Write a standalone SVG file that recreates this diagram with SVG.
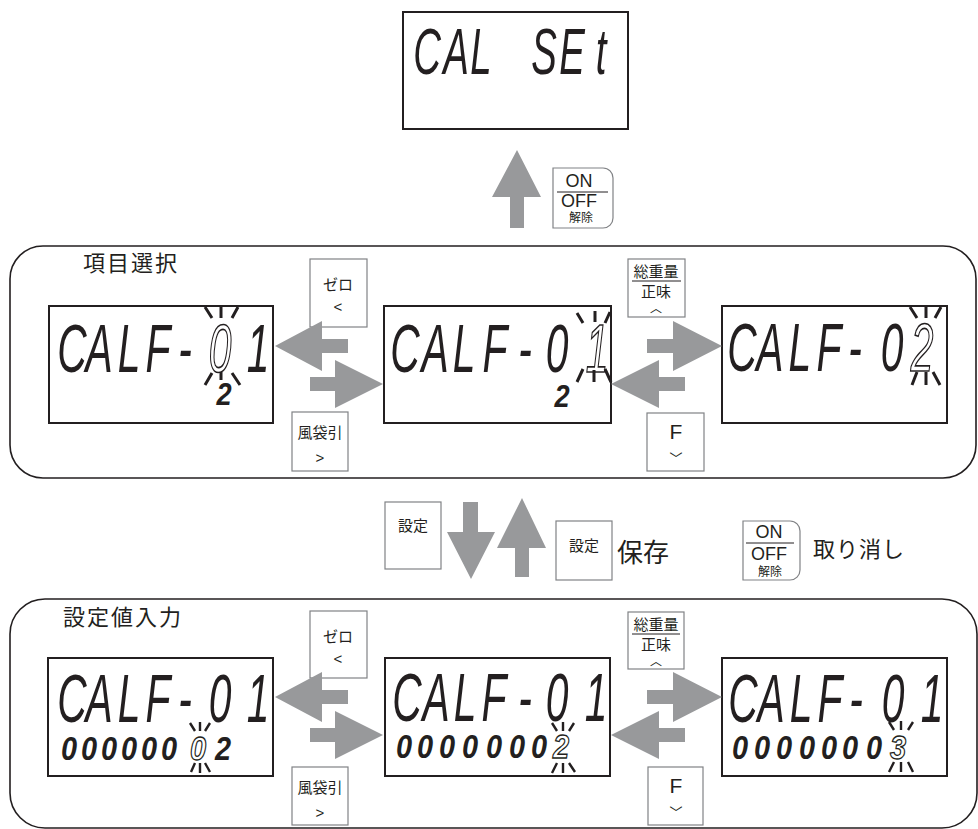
<svg xmlns="http://www.w3.org/2000/svg" width="978" height="829" viewBox="0 0 978 829">
<style>
.bg{fill:#fff}
.disp{fill:#fff;stroke:#231f20;stroke-width:2}
.key{fill:#fff;stroke:#808285;stroke-width:1.2}
.panel{fill:none;stroke:#231f20;stroke-width:1.6}
.seg{font-family:"Liberation Sans",Arial,sans-serif;font-style:italic;fill:#231f20;text-anchor:middle}
.l1{font-size:68px}
.l0{font-size:64px}
.l2{font-size:34px;font-weight:bold}
.sm{font-size:32px;font-weight:bold}
.blink{fill:#fff;stroke:#231f20;stroke-width:1.7}
.blink2{fill:#fff;stroke:#231f20;stroke-width:1.3}
.ray{stroke:#231f20;stroke-width:3;fill:none}
.ray2{stroke:#231f20;stroke-width:2.4;fill:none}
.arrow{fill:#98999b}
.jp{font-family:"Noto Sans CJK JP",sans-serif;fill:#231f20}
.k{font-size:15px;text-anchor:middle}
.lat{font-family:"Liberation Sans",sans-serif;text-anchor:middle;fill:#231f20}
.sep{stroke:#231f20;stroke-width:1}
</style>
<rect class="bg" x="0" y="0" width="978" height="829"/>

<g id="panel-select">
<rect class="panel" x="10" y="246" width="966" height="232" rx="33" ry="33"/>
<text class="jp" x="83" y="271" font-size="22" letter-spacing="2">項目選択</text>
</g>
<g id="panel-input">
<rect class="panel" x="10" y="599" width="967" height="229" rx="35" ry="35"/>
<text class="jp" x="63" y="625" font-size="22" letter-spacing="2">設定値入力</text>
</g>

<g id="disp-calset">
<rect class="disp" x="403" y="12" width="225" height="117"/>
<text class="seg l0" transform="scale(0.6,1)" x="711.7 760 801.7 853.3 906.7 953.3 1001.7" y="74">CAL SEt</text>
</g>

<g id="key-onoff-top">
<path class="key" d="M553,168 H603 A10,10 0 0 1 613,178 V218 A10,10 0 0 1 603,228 H553 Z"/>
<text class="lat" x="579" y="187" font-size="18">ON</text>
<line class="sep" x1="557" y1="192" x2="608" y2="192"/>
<text class="lat" x="579" y="207" font-size="18">OFF</text>
<text class="jp" x="581" y="222" font-size="12" text-anchor="middle">解除</text>
</g>

<g id="disp-L1">
<rect class="disp" x="49" y="306" width="224" height="117"/>
<text class="seg l1" transform="scale(0.6,1)" x="120 165 215 263.3 308.3" y="372">CALF-<tspan class="blink" x="366.7">0</tspan><tspan x="430">1</tspan></text>
<text class="seg sm" transform="scale(0.85,1)" x="263.5" y="405">2</text>
<path class="ray" d="M205,307 L212,318 M221,307 L221,318 M238,307 L232,318 M212,373 L205,385 M221,372 L221,380 M232,373 L240,385"/>
</g>

<g id="disp-M1">
<rect class="disp" x="384" y="306" width="227" height="117"/>
<text class="seg l1" transform="scale(0.6,1)" x="675 725 773.3 825 875 928.3" y="372">CALF-0<tspan class="blink" x="995">1</tspan></text>
<text class="seg sm" transform="scale(0.85,1)" x="661.2" y="407">2</text>
<path class="ray" d="M577,313 L583,323 M595,311 L595,322 M610,312 L605,323 M583,369 L577,382 M594,370 L594,382 M605,369 L611,382"/>
</g>

<g id="disp-R1">
<rect class="disp" x="722" y="306" width="225" height="117"/>
<text class="seg l1" transform="scale(0.6,1)" x="1236.7 1283.3 1333.3 1381.7 1425 1486.7" y="371">CALF-0<tspan class="blink" x="1536.7">2</tspan></text>
<path class="ray" d="M910,307 L917,318 M926,307 L926,318 M941,307 L935,318 M917,372 L912,385 M926,372 L926,385 M933,372 L940,385"/>
</g>

<g id="disp-L2">
<rect class="disp" x="48" y="658" width="225" height="118"/>
<text class="seg l1" transform="scale(0.6,1)" x="120 165 215 263.3 308.3 366.7 430" y="722">CALF-01</text>
<text class="seg l2" transform="scale(0.85,1)" x="81.2 104.7 128.2 151.8 175.3 198.8" y="760">000000<tspan class="blink2" x="232.9">0</tspan><tspan x="262.4">2</tspan></text>
<path class="ray2" d="M190,723 L195,731 M200,722 L200,731 M210,723 L205,731 M195,763 L191,772 M200,763 L200,773 M205,763 L210,772"/>
</g>

<g id="disp-M2">
<rect class="disp" x="385" y="658" width="225" height="118"/>
<text class="seg l1" transform="scale(0.6,1)" x="678.3 726.7 775 823.3 875 928.3 993.3" y="721">CALF-01</text>
<text class="seg l2" transform="scale(0.85,1)" x="475.3 500 525.9 552.9 581.2 608.2 634.1" y="758">0000000<tspan class="blink2" x="660">2</tspan></text>
<path class="ray2" d="M552,723 L557,731 M563,722 L563,731 M574,723 L569,731 M557,763 L552,773 M563,763 L563,773 M569,763 L575,772"/>
</g>

<g id="disp-R2">
<rect class="disp" x="722" y="658" width="225" height="118"/>
<text class="seg l1" transform="scale(0.6,1)" x="1238.3 1285 1335 1383.3 1426.7 1488.3 1553.3" y="722">CALF-01</text>
<text class="seg l2" transform="scale(0.85,1)" x="870.6 896.5 922.4 949.4 975.3 1000 1028.2" y="759">0000000<tspan class="blink2" x="1056.5">3</tspan></text>
<path class="ray2" d="M889,722 L894,730 M901,721 L901,730 M913,722 L908,730 M894,762 L889,772 M901,762 L901,772 M908,762 L913,772"/>
</g>

<g id="key-zero-1">
<rect class="key" x="310" y="259" width="57" height="68"/>
<text class="jp k" x="338" y="290">ゼロ</text>
<text class="lat" x="338" y="312" font-size="15">&lt;</text>
</g>
<g id="key-tare-1">
<rect class="key" x="292" y="412" width="56" height="59"/>
<text class="jp k" x="320" y="438">風袋引</text>
<text class="lat" x="320" y="463" font-size="15">&gt;</text>
</g>
<g id="key-gross-1">
<rect class="key" x="628" y="259" width="57" height="58"/>
<text class="jp k" x="656" y="277">総重量</text>
<line class="sep" x1="632" y1="281" x2="681" y2="281"/>
<text class="jp k" x="656" y="297">正味</text>
<text class="jp" x="656" y="313" font-size="12" text-anchor="middle">︿</text>
</g>
<g id="key-f-1">
<rect class="key" x="647" y="413" width="57" height="58"/>
<text class="lat" x="676" y="439" font-size="21">F</text>
<text class="jp" x="676" y="463" font-size="13" text-anchor="middle">﹀</text>
</g>

<g id="key-zero-2">
<rect class="key" x="310" y="611" width="57" height="67"/>
<text class="jp k" x="338" y="642">ゼロ</text>
<text class="lat" x="338" y="664" font-size="15">&lt;</text>
</g>
<g id="key-tare-2">
<rect class="key" x="292" y="767" width="56" height="58"/>
<text class="jp k" x="320" y="793">風袋引</text>
<text class="lat" x="320" y="818" font-size="15">&gt;</text>
</g>
<g id="key-gross-2">
<rect class="key" x="628" y="612" width="56" height="57"/>
<text class="jp k" x="656" y="630">総重量</text>
<line class="sep" x1="632" y1="634" x2="680" y2="634"/>
<text class="jp k" x="656" y="650">正味</text>
<text class="jp" x="656" y="666" font-size="12" text-anchor="middle">︿</text>
</g>
<g id="key-f-2">
<rect class="key" x="648" y="767" width="55" height="58"/>
<text class="lat" x="676" y="793" font-size="21">F</text>
<text class="jp" x="676" y="817" font-size="13" text-anchor="middle">﹀</text>
</g>

<g id="key-set-1">
<rect class="key" x="385" y="502" width="56" height="67"/>
<text class="jp k" x="413" y="531">設定</text>
</g>
<g id="key-set-2">
<rect class="key" x="556" y="521" width="56" height="59"/>
<text class="jp k" x="584" y="551">設定</text>
</g>
<g id="label-save">
<text class="jp" x="617" y="562" font-size="26">保存</text>
</g>
<g id="key-onoff-mid">
<path class="key" d="M743,521 H790 A10,10 0 0 1 800,531 V570 A10,10 0 0 1 790,580 H743 Z"/>
<text class="lat" x="769" y="538" font-size="18">ON</text>
<line class="sep" x1="746" y1="543" x2="794" y2="543"/>
<text class="lat" x="769" y="560" font-size="18">OFF</text>
<text class="jp" x="770" y="576" font-size="12" text-anchor="middle">解除</text>
</g>
<g id="label-cancel">
<text class="jp" x="813" y="557" font-size="22" letter-spacing="1">取り消し</text>
</g>

<g id="connectors">
<polygon class="arrow" points="517,150 541,197 524,197 524,228 510,228 510,197 492,197"/>
<polygon class="arrow" points="275,346 322,321 322,339 348,339 348,353 322,353 322,371"/>
<polygon class="arrow" points="383,384 335,360 335,377 310,377 310,391 335,391 335,408"/>
<polygon class="arrow" points="722,346 673,321 673,339 647,339 647,353 673,353 673,371"/>
<polygon class="arrow" points="611,384 659,360 659,377 685,377 685,391 659,391 659,408"/>
<polygon class="arrow" points="463,502 478,502 478,532 495,532 471,579 447,532 463,532"/>
<polygon class="arrow" points="522,498 546,548 529,548 529,577 515,577 515,548 497,548"/>
<polygon class="arrow" points="275,697 322,672 322,690 348,690 348,704 322,704 322,722"/>
<polygon class="arrow" points="383,735 335,711 335,728 310,728 310,742 335,742 335,759"/>
<polygon class="arrow" points="722,697 673,672 673,690 647,690 647,704 673,704 673,722"/>
<polygon class="arrow" points="611,735 659,711 659,728 685,728 685,742 659,742 659,759"/>
</g>
</svg>
